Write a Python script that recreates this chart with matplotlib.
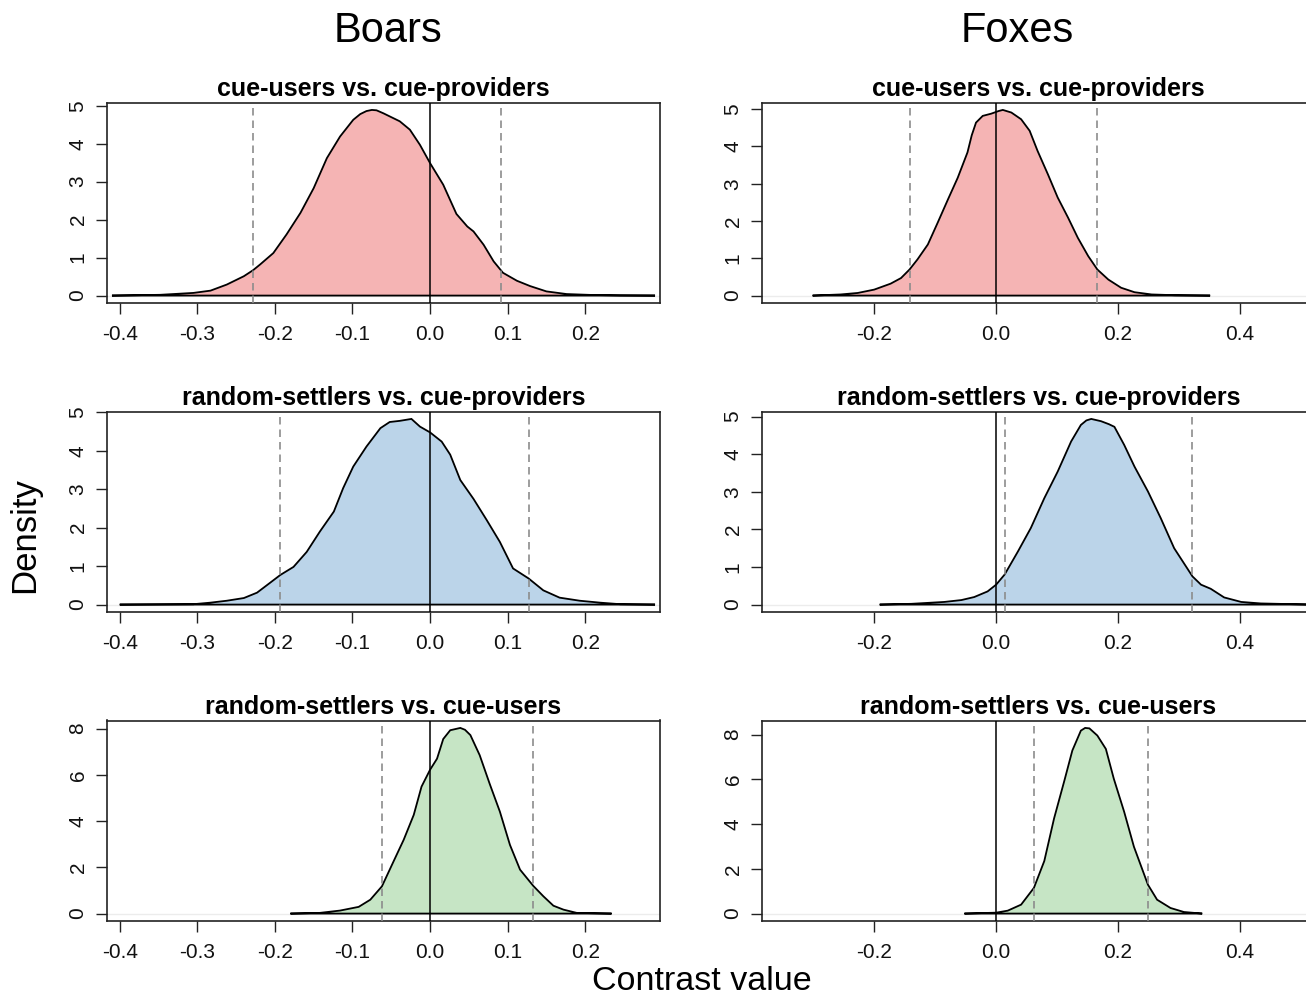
import matplotlib
matplotlib.use('Agg')
import matplotlib.pyplot as plt

plt.rcParams['font.family'] = ['Liberation Sans', 'DejaVu Sans']

# posterior densities of the contrasts
comparisons = ['cue-users vs. cue-providers',
               'random-settlers vs. cue-providers',
               'random-settlers vs. cue-users']
species = ['Boars', 'Foxes']

# Boars
boar_up_x = [-0.41, -0.348, -0.305, -0.283, -0.262, -0.240, -0.228, -0.219, -0.202, -0.185,
             -0.167, -0.150, -0.133, -0.116, -0.099, -0.090, -0.082, -0.075, -0.069, -0.060,
             -0.052, -0.039, -0.026, -0.013, 0.0, 0.017, 0.034, 0.048, 0.056, 0.069,
             0.082, 0.094, 0.112, 0.129, 0.150, 0.176, 0.210, 0.245, 0.29]
boar_up_y = [0, 0.02, 0.07, 0.13, 0.29, 0.51, 0.67, 0.82, 1.12, 1.61,
             2.18, 2.83, 3.62, 4.19, 4.63, 4.78, 4.86, 4.89, 4.88, 4.80,
             4.72, 4.59, 4.37, 3.97, 3.49, 2.92, 2.15, 1.82, 1.69, 1.34,
             0.90, 0.60, 0.39, 0.25, 0.11, 0.04, 0.015, 0.005, 0]
boar_up_ci = [-0.228, 0.092]

boar_rp_x = [-0.40, -0.305, -0.283, -0.262, -0.240, -0.223, -0.206, -0.193, -0.176, -0.159,
             -0.142, -0.124, -0.112, -0.099, -0.082, -0.064, -0.052, -0.039, -0.024, -0.013,
             0.0, 0.015, 0.026, 0.039, 0.056, 0.073, 0.090, 0.107, 0.127, 0.146,
             0.167, 0.193, 0.219, 0.245, 0.29]
boar_rp_y = [0, 0.01, 0.05, 0.10, 0.17, 0.31, 0.57, 0.77, 0.98, 1.37,
             1.90, 2.42, 3.03, 3.59, 4.11, 4.59, 4.75, 4.78, 4.83, 4.63,
             4.48, 4.24, 3.90, 3.24, 2.75, 2.20, 1.63, 0.94, 0.68, 0.37,
             0.18, 0.10, 0.05, 0.01, 0]
boar_rp_ci = [-0.193, 0.127]

boar_ru_x = [-0.180, -0.142, -0.116, -0.092, -0.077, -0.062, -0.047, -0.034, -0.021, -0.011,
             0.0, 0.009, 0.017, 0.026, 0.039, 0.045, 0.052, 0.064, 0.077, 0.090,
             0.103, 0.116, 0.133, 0.146, 0.159, 0.172, 0.189, 0.234]
boar_ru_y = [0, 0.03, 0.13, 0.29, 0.60, 1.18, 2.26, 3.19, 4.27, 5.49,
             6.22, 6.70, 7.55, 7.93, 8.03, 7.95, 7.72, 6.85, 5.60, 4.41,
             2.97, 1.90, 1.20, 0.75, 0.34, 0.17, 0.03, 0]
boar_ru_ci = [-0.062, 0.133]

# Foxes
fox_up_x = [-0.301, -0.255, -0.227, -0.200, -0.173, -0.156, -0.142, -0.129, -0.112, -0.096,
            -0.079, -0.063, -0.047, -0.040, -0.033, -0.022, -0.008, 0.004, 0.011, 0.025,
            0.041, 0.055, 0.068, 0.085, 0.101, 0.118, 0.134, 0.151, 0.166, 0.184,
            0.205, 0.227, 0.255, 0.293, 0.351]
fox_up_y = [0, 0.03, 0.07, 0.16, 0.32, 0.47, 0.70, 0.97, 1.37, 1.95,
            2.58, 3.16, 3.84, 4.30, 4.64, 4.82, 4.88, 4.95, 4.98, 4.91,
            4.73, 4.42, 3.88, 3.25, 2.63, 2.09, 1.55, 1.06, 0.70, 0.43,
            0.21, 0.09, 0.03, 0.01, 0]
fox_up_ci = [-0.142, 0.166]

fox_rp_x = [-0.191, -0.139, -0.085, -0.057, -0.036, -0.014, 0.0, 0.014, 0.036, 0.057,
            0.079, 0.101, 0.123, 0.139, 0.148, 0.156, 0.172, 0.185, 0.194, 0.210,
            0.227, 0.249, 0.270, 0.292, 0.322, 0.336, 0.352, 0.374, 0.402, 0.434,
            0.489, 0.52]
fox_rp_y = [0, 0.02, 0.07, 0.12, 0.20, 0.35, 0.53, 0.80, 1.42, 2.04,
            2.83, 3.54, 4.34, 4.78, 4.90, 4.94, 4.88, 4.80, 4.73, 4.25,
            3.67, 3.01, 2.30, 1.50, 0.75, 0.53, 0.42, 0.19, 0.07, 0.03,
            0.01, 0]
fox_rp_ci = [0.014, 0.322]

fox_ru_x = [-0.052, 0.0, 0.019, 0.041, 0.062, 0.079, 0.095, 0.112, 0.125, 0.139,
            0.146, 0.153, 0.166, 0.180, 0.193, 0.210, 0.226, 0.249, 0.264, 0.286,
            0.308, 0.338]
fox_ru_y = [0, 0.04, 0.13, 0.40, 1.15, 2.35, 4.25, 5.95, 7.29, 8.18,
            8.30, 8.28, 7.96, 7.36, 6.03, 4.55, 2.99, 1.29, 0.62, 0.25,
            0.07, 0]
fox_ru_ci = [0.062, 0.249]

fills = ['#F5B4B4', '#BBD4E9', '#C6E5C5']

panels = [
    [(boar_up_x, boar_up_y, boar_up_ci), (fox_up_x, fox_up_y, fox_up_ci)],
    [(boar_rp_x, boar_rp_y, boar_rp_ci), (fox_rp_x, fox_rp_y, fox_rp_ci)],
    [(boar_ru_x, boar_ru_y, boar_ru_ci), (fox_ru_x, fox_ru_y, fox_ru_ci)],
]

xlims = [(-0.4164, 0.2964), (-0.384, 0.523)]
xticks = [[-0.4, -0.3, -0.2, -0.1, 0.0, 0.1, 0.2], [-0.2, 0.0, 0.2, 0.4]]
yticks = [[0, 1, 2, 3, 4, 5], [0, 1, 2, 3, 4, 5], [0, 2, 4, 6, 8]]

W, H = 1306, 999
fig = plt.figure(figsize=(W / 100, H / 100), dpi=100)

col_left = [107, 762]
row_bottom = [303, 612, 921]
box_w, box_h = 553, 200.5

for r in range(3):
    for c in range(2):
        xs, ys, ci = panels[r][c]
        ax = fig.add_axes([col_left[c] / W, 1 - row_bottom[r] / H, box_w / W, box_h / H])
        ax.axhline(0, color='#ececec', lw=1.0, zorder=0)
        ax.fill(xs, ys, facecolor=fills[r], edgecolor='black', lw=1.3, zorder=2)
        for v in ci:
            ax.axvline(v, color='#8c8c8c', lw=1.2, ls=(0, (4.5, 3)), zorder=3)
        ax.axvline(0, color='black', lw=1.1, zorder=3)

        ymax = max(ys)
        ax.set_ylim(-0.04 * ymax, 1.04 * ymax)
        ax.set_xlim(*xlims[c])
        ax.set_xticks(xticks[c])
        ax.set_xticklabels(['%.1f' % t for t in xticks[c]])
        ax.set_yticks(yticks[r])
        ax.set_yticklabels([str(t) for t in yticks[r]], rotation=90, va='center')
        ax.tick_params(axis='both', direction='out', length=8, width=1.0,
                       color='#222222', labelsize=15, labelcolor='#111111')
        ax.tick_params(axis='x', pad=7.5)
        ax.tick_params(axis='y', pad=6)
        for s in ax.spines.values():
            s.set_linewidth(1.2)
            s.set_color('#222222')
        if c == 1:
            # the original image is cropped through the right-hand panels
            ax.spines['right'].set_visible(False)
        ax.set_title(comparisons[r], fontsize=18, fontweight='bold', pad=4.5)

fig.text(388 / W, 1 - 42 / H, species[0], fontsize=30, ha='center', va='baseline')
fig.text(1017 / W, 1 - 42 / H, species[1], fontsize=30, ha='center', va='baseline')
fig.text(25 / W, 1 - 535 / H, 'Density', fontsize=25, rotation=90, ha='center', va='center')
fig.text(702 / W, 0.002, 'Contrast value', fontsize=24.5, ha='center', va='bottom')

fig.savefig('out.png', dpi=100)
